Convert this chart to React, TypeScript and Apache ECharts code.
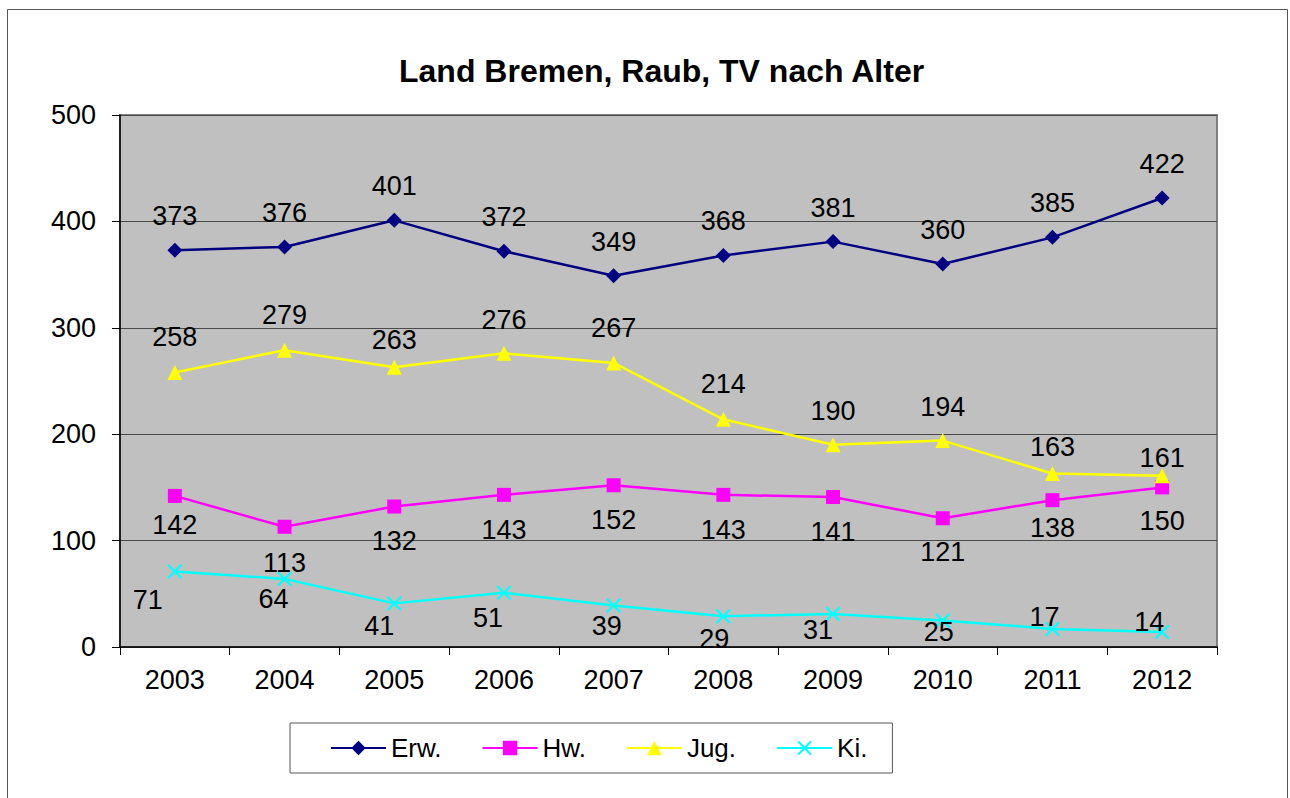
import React, { useEffect, useRef } from "react";
import * as echarts from "echarts";

const years = ["2003", "2004", "2005", "2006", "2007", "2008", "2009", "2010", "2011", "2012"];
const erw = [373, 376, 401, 372, 349, 368, 381, 360, 385, 422];
const hw = [142, 113, 132, 143, 152, 143, 141, 121, 138, 150];
const jug = [258, 279, 263, 276, 267, 214, 190, 194, 163, 161];
const ki = [71, 64, 41, 51, 39, 29, 31, 25, 17, 14];
const seriesNames = ["Erw.", "Hw.", "Jug.", "Ki."];
const yTicks = { min: 0, max: 500, interval: 100 };
const chartTitle = "Land Bremen, Raub, TV nach Alter";

// label placement (style), kept apart from the values
const erwLabelOffsets = erw.map(() => [0, -34]);
const hwLabelOffsets = [[0, 29], [0, 36], [0, 34], [0, 35], [0, 35], [0, 35], [0, 35], [0, 34], [0, 28], [0, 34]];
const jugLabelOffsets = [[0, -35], [0, -35], [0, -27], [0, -33], [0, -35], [0, -35], [0, -34], [0, -34], [0, -27], [0, -18]];
const kiLabelOffsets = [[-27, 29], [-11, 20], [-15, 23], [-16, 25], [-7, 20], [-9, 23], [-15, 16], [-4, 12], [-8, -12], [-13, -10]];

const FONT = "'Liberation Sans', Arial, sans-serif";
const X_SYMBOL = "path://M0,1 L1,0 L5,4 L9,0 L10,1 L6,5 L10,9 L9,10 L5,6 L1,10 L0,9 L4,5 Z";

function withLabels(values: number[], offsets: number[][]) {
  return values.map((v, i) => ({ value: v, label: { offset: offsets[i] } }));
}

export default function App() {
  const ref = useRef<HTMLDivElement>(null);
  useEffect(() => {
    if (!ref.current) return;
    const chart = echarts.init(ref.current, null, { renderer: "svg" });
    const labelStyle = {
      show: true,
      position: "inside",
      color: "#000",
      fontSize: 27,
      fontFamily: FONT,
    };
    const mk = (name: string, data: any[], color: string, symbol: string, size: number) => ({
      name,
      type: "line",
      data,
      symbol,
      symbolSize: size,
      lineStyle: { color, width: 2.5 },
      itemStyle: { color },
      label: labelStyle,
      z: 3,
    });
    chart.setOption({
      animation: false,
      backgroundColor: "#fff",
      textStyle: { fontFamily: FONT },
      title: {
        text: chartTitle,
        left: 394,
        top: 50,
        textStyle: { fontSize: 32, fontWeight: "bold", color: "#000", fontFamily: FONT },
      },
      graphic: [
        {
          type: "rect",
          shape: { x: 7.5, y: 9.5, width: 1280, height: 800 },
          style: { fill: "none", stroke: "#555", lineWidth: 1 },
          silent: true,
          z: -10,
        },
      ],
      legend: {
        left: 290,
        top: 723,
        data: seriesNames,
        itemWidth: 55,
        itemHeight: 18,
        itemGap: 40,
        padding: [12, 25, 12, 40],
        borderColor: "#555",
        borderWidth: 1,
        textStyle: { fontSize: 26, color: "#000", fontFamily: FONT },
      },
      grid: {
        left: 120,
        top: 115,
        right: 73,
        bottom: 151,
        show: true,
        backgroundColor: "#C0C0C0",
        borderColor: "#808080",
        borderWidth: 2,
      },
      xAxis: {
        type: "category",
        data: years,
        boundaryGap: true,
        axisLine: { show: true, lineStyle: { color: "#000", width: 1.5 } },
        axisTick: { show: true, length: 8, lineStyle: { color: "#000" } },
        axisLabel: { color: "#000", fontSize: 27, margin: 19, fontFamily: FONT },
        splitLine: { show: false },
      },
      yAxis: {
        type: "value",
        min: yTicks.min,
        max: yTicks.max,
        interval: yTicks.interval,
        axisLine: { show: true, lineStyle: { color: "#000", width: 1.5 } },
        axisTick: { show: true, length: 8, lineStyle: { color: "#000" } },
        axisLabel: { color: "#000", fontSize: 27, margin: 24, fontFamily: FONT },
        splitLine: { show: true, lineStyle: { color: "#4a4a4a", width: 1 } },
      },
      series: [
        mk(seriesNames[0], withLabels(erw, erwLabelOffsets), "#000080", "diamond", 15),
        mk(seriesNames[1], withLabels(hw, hwLabelOffsets), "#FF00FF", "rect", 14),
        mk(seriesNames[2], withLabels(jug, jugLabelOffsets), "#FFFF00", "triangle", 15),
        mk(seriesNames[3], withLabels(ki, kiLabelOffsets), "#00FFFF", X_SYMBOL, 15),
      ],
    });
    return () => chart.dispose();
  }, []);
  return (
    <div
      ref={ref}
      style={{ position: "fixed", left: 0, top: 0, width: 1290, height: 798 }}
    />
  );
}
